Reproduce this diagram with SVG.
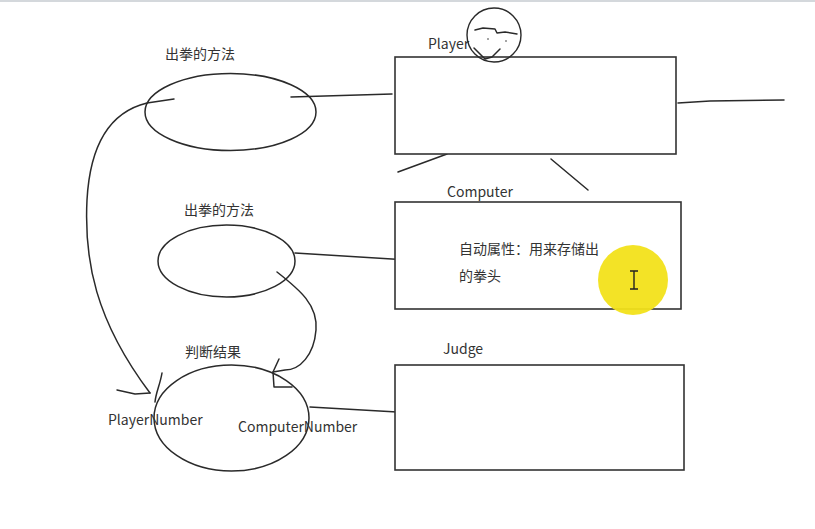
<svg xmlns="http://www.w3.org/2000/svg" width="815" height="529" viewBox="0 0 815 529">
<style>
.s{fill:none;stroke:#2a2a2a;stroke-width:1.5;stroke-linecap:round;stroke-linejoin:round}
.b{fill:#fff;stroke:#333;stroke-width:1.6}
.t{font-family:"Noto Sans CJK SC","Noto Sans",sans-serif;font-size:14px;fill:#333}
</style>
<rect x="0" y="0" width="815" height="529" fill="#fff"/>
<rect x="0" y="0" width="815" height="2" fill="#d4d8dc"/>
<g id="connectors">
<path class="s" d="M291,97 L392,94"/>
<path class="s" d="M678,103 L710,101 L784,100"/>
<path class="s" d="M398,172 L447,154"/>
<path class="s" d="M551,159 L588,190"/>
<path class="s" d="M295,253 L408,260"/>
<path class="s" d="M310,407 L397,412"/>
<path class="s" d="M174,99 L147,103 C110,112 90,145 87,200 C84,260 95,320 150,393"/>
<path class="s" d="M117,390 L135,394 L150,393"/>
<path class="s" d="M277,272 C300,290 318,305 316,330 C314,355 300,370 285,370 L273,372"/>
<path class="s" d="M279,359 L273,372 L274,387 L292,387"/>
<path class="s" d="M162,373 C160,385 156,392 155,402"/>
</g>
<g id="player">
<rect class="b" x="395" y="57" width="281" height="97"/>
<text class="t" x="428" y="49">Player</text>
<circle cx="494" cy="35" r="27" fill="none" stroke="#2a2a2a" stroke-width="1.4"/>
<path class="s" d="M475,30 L483,28 L495,29 L497,33 L505,32 L517,34"/>
<circle cx="488" cy="39" r="0.8" fill="#333"/>
<circle cx="506" cy="41" r="0.8" fill="#333"/>
<path class="s" d="M474,48 L485,59 L492,57 L500,49"/>
</g>
<g id="method1">
<ellipse class="s" cx="230.5" cy="112" rx="85.5" ry="38.5"/>
<text class="t" x="165" y="59">出拳的方法</text>
</g>
<g id="computer">
<rect class="b" x="395" y="202" width="286" height="107"/>
<text class="t" x="447" y="197">Computer</text>
<text class="t" x="459" y="254">自动属性：用来存储出</text>
<text class="t" x="459" y="281">的拳头</text>
<circle cx="633" cy="280" r="35" fill="#f2e21a" opacity="0.95"/>
<path d="M630,271 L638,271 M634,271 L634,289 M630,289 L638,289" stroke="#222" stroke-width="1.4" fill="none"/>
</g>
<g id="method2">
<ellipse class="s" cx="226.5" cy="261" rx="68.5" ry="36"/>
<text class="t" x="184" y="215">出拳的方法</text>
</g>
<g id="judgeMethod">
<ellipse class="s" cx="231.5" cy="418" rx="77.5" ry="53"/>
<text class="t" x="185" y="357">判断结果</text>
<text class="t" x="108" y="425">PlayerNumber</text>
<text class="t" x="238" y="432">ComputerNumber</text>
</g>
<g id="judge">
<rect class="b" x="395" y="365" width="289" height="105"/>
<text class="t" x="443" y="354">Judge</text>
</g>
</svg>
